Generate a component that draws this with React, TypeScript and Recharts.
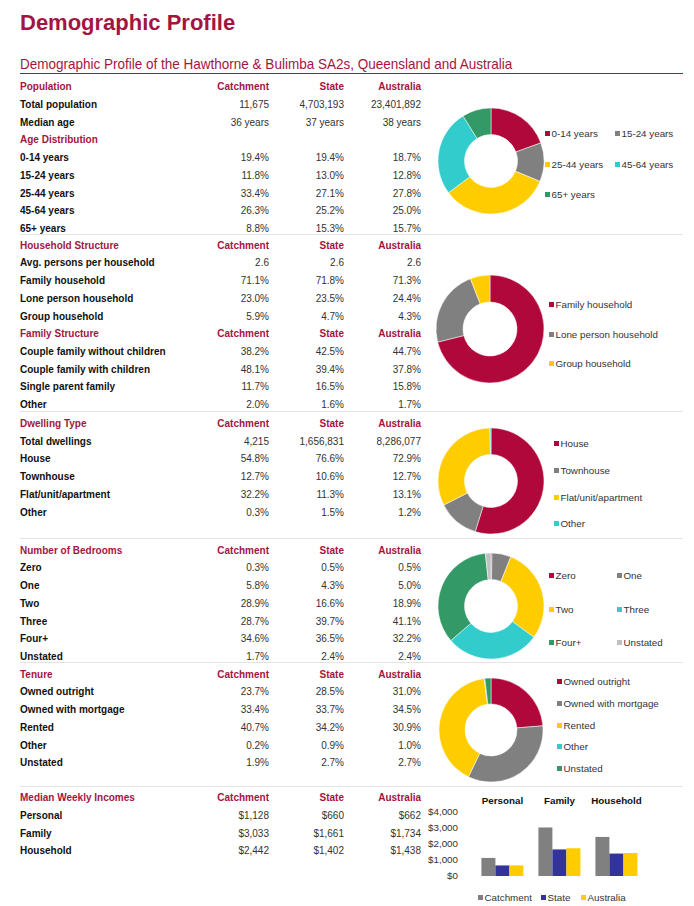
import React from "react";
import { PieChart, Pie, Cell, BarChart, Bar, XAxis, YAxis } from "recharts";

const columns = ["Catchment", "State", "Australia"];

const totalPopulation = [11675, 4703193, 23401892];
const medianAge = [36, 37, 38];

const ageLabels = ["0-14 years", "15-24 years", "25-44 years", "45-64 years", "65+ years"];
const ageCatchment = [19.4, 11.8, 33.4, 26.3, 8.8];
const ageState = [19.4, 13.0, 27.1, 25.2, 15.3];
const ageAustralia = [18.7, 12.8, 27.8, 25.0, 15.7];

const avgPersons = [2.6, 2.6, 2.6];
const householdLabels = ["Family household", "Lone person household", "Group household"];
const householdCatchment = [71.1, 23.0, 5.9];
const householdState = [71.8, 23.5, 4.7];
const householdAustralia = [71.3, 24.4, 4.3];

const familyLabels = ["Couple family without children", "Couple family with children", "Single parent family", "Other"];
const familyCatchment = [38.2, 48.1, 11.7, 2.0];
const familyState = [42.5, 39.4, 16.5, 1.6];
const familyAustralia = [44.7, 37.8, 15.8, 1.7];

const totalDwellings = [4215, 1656831, 8286077];
const dwellingLabels = ["House", "Townhouse", "Flat/unit/apartment", "Other"];
const dwellingCatchment = [54.8, 12.7, 32.2, 0.3];
const dwellingState = [76.6, 10.6, 11.3, 1.5];
const dwellingAustralia = [72.9, 12.7, 13.1, 1.2];

const bedroomLabels = ["Zero", "One", "Two", "Three", "Four+", "Unstated"];
const bedroomCatchment = [0.3, 5.8, 28.9, 28.7, 34.6, 1.7];
const bedroomState = [0.5, 4.3, 16.6, 39.7, 36.5, 2.4];
const bedroomAustralia = [0.5, 5.0, 18.9, 41.1, 32.2, 2.4];

const tenureLabels = ["Owned outright", "Owned with mortgage", "Rented", "Other", "Unstated"];
const tenureCatchment = [23.7, 33.4, 40.7, 0.2, 1.9];
const tenureState = [28.5, 33.7, 34.2, 0.9, 2.7];
const tenureAustralia = [31.0, 34.5, 30.9, 1.0, 2.7];

const incomeLabels = ["Personal", "Family", "Household"];
const incomeCatchment = [1128, 3033, 2442];
const incomeState = [660, 1661, 1402];
const incomeAustralia = [662, 1734, 1438];
const incomeTicks = [0, 1000, 2000, 3000, 4000];

const CRIMSON = "#a3153f";
const RED = "#b0083a";
const GRAY = "#808080";
const YELLOW = "#ffcc00";
const TEAL = "#33cccc";
const GREEN = "#339966";
const LIGHT = "#c0c0c0";
const NAVY = "#333399";
const FONT = '"Liberation Sans", Arial, sans-serif';

const ROW_H = 17.72;
const COL_RIGHT = [269, 344, 421];

const pct = (v: number) => v.toFixed(1) + "%";
const num = (v: number) => v.toLocaleString("en-US");
const money = (v: number) => "$" + v.toLocaleString("en-US");

type Row = { head?: boolean; label: string; values?: string[] };

const head = (label: string, cols = true): Row => ({ head: true, label, values: cols ? columns : undefined });
const rowsOf = (labels: string[], a: number[], b: number[], c: number[], f = pct): Row[] =>
  labels.map((label, i) => ({ label, values: [f(a[i]), f(b[i]), f(c[i])] }));

function TableRows({ y0, rows }: { y0: number; rows: Row[] }) {
  return (
    <>
      {rows.map((r, i) => {
        const y = y0 + i * ROW_H;
        return (
          <div key={i} style={{ position: "absolute", left: 0, top: y - 9, width: 430, height: 18, lineHeight: "18px", fontSize: 10 }}>
            <span style={{ position: "absolute", left: 20, fontWeight: 700, color: r.head ? CRIMSON : "#111", whiteSpace: "nowrap" }}>
              {r.label}
            </span>
            {r.values?.map((v, j) => (
              <span
                key={j}
                style={{
                  position: "absolute",
                  left: COL_RIGHT[j] - 90,
                  width: 90,
                  textAlign: "right",
                  fontWeight: r.head ? 700 : 400,
                  color: r.head ? CRIMSON : "#333",
                }}
              >
                {v}
              </span>
            ))}
          </div>
        );
      })}
    </>
  );
}

function Donut({ labels, values, colors, cx, cy, r }: { labels: string[]; values: number[]; colors: string[]; cx: number; cy: number; r: number }) {
  const data = labels.map((name, i) => ({ name, value: values[i] }));
  return (
    <div style={{ position: "absolute", left: cx - 60, top: cy - 60 }}>
      <PieChart width={120} height={120}>
        <Pie
          data={data}
          dataKey="value"
          cx={60}
          cy={60}
          outerRadius={r}
          innerRadius={r * 0.5}
          startAngle={90}
          endAngle={-270}
          stroke="#fff"
          strokeWidth={0.5}
          isAnimationActive={false}
        >
          {data.map((d, i) => (
            <Cell key={d.name} fill={colors[i]} />
          ))}
        </Pie>
      </PieChart>
    </div>
  );
}

function DonutLegend({ labels, colors, xs, ys }: { labels: string[]; colors: string[]; xs: number[]; ys: number[] }) {
  return (
    <>
      {labels.map((l, i) => {
        const x = xs[i % xs.length];
        const y = ys[Math.floor(i / xs.length)];
        return (
          <div key={l} style={{ position: "absolute", left: x, top: y - 7, height: 14, lineHeight: "14px", fontSize: 9.8, color: "#333", whiteSpace: "nowrap" }}>
            <span style={{ display: "inline-block", width: 5, height: 5, background: colors[i], marginRight: 1.5, verticalAlign: "middle", position: "relative", top: -1 }} />
            {l}
          </div>
        );
      })}
    </>
  );
}

const separators = [234, 411, 538, 662, 786];

export default function App() {
  const incomeData = incomeLabels.map((name, i) => ({
    name,
    Catchment: incomeCatchment[i],
    State: incomeState[i],
    Australia: incomeAustralia[i],
  }));
  const barSeries = [
    { key: "Catchment", color: GRAY },
    { key: "State", color: NAVY },
    { key: "Australia", color: YELLOW },
  ];
  const barLegendX = [478, 541, 581];

  return (
    <div style={{ position: "absolute", left: 0, top: 0, width: 694, height: 906, background: "#fff", fontFamily: FONT, overflow: "hidden" }}>
      <div style={{ position: "absolute", left: 20, top: 10, fontSize: 22, fontWeight: 700, color: CRIMSON, lineHeight: "26px" }}>
        Demographic Profile
      </div>
      <div
        style={{
          position: "absolute",
          left: 20,
          top: 55,
          fontSize: 15,
          lineHeight: "17px",
          color: CRIMSON,
          whiteSpace: "nowrap",
          transform: "scaleX(0.9)",
          transformOrigin: "left center",
        }}
      >
        Demographic Profile of the Hawthorne &amp; Bulimba SA2s, Queensland and Australia
      </div>
      <div style={{ position: "absolute", left: 20, top: 72.5, width: 663, height: 1.5, background: CRIMSON }} />
      {separators.map((y) => (
        <div key={y} style={{ position: "absolute", left: 20, top: y, width: 663, height: 1, background: "#e4e4e4" }} />
      ))}

      <TableRows
        y0={87.3}
        rows={[
          head("Population"),
          { label: "Total population", values: totalPopulation.map(num) },
          { label: "Median age", values: medianAge.map((v) => `${v} years`) },
          head("Age Distribution", false),
          ...rowsOf(ageLabels, ageCatchment, ageState, ageAustralia),
        ]}
      />
      <TableRows
        y0={245.7}
        rows={[
          head("Household Structure"),
          { label: "Avg. persons per household", values: avgPersons.map((v) => v.toFixed(1)) },
          ...rowsOf(householdLabels, householdCatchment, householdState, householdAustralia),
          head("Family Structure"),
          ...rowsOf(familyLabels, familyCatchment, familyState, familyAustralia),
        ]}
      />
      <TableRows
        y0={424}
        rows={[
          head("Dwelling Type"),
          { label: "Total dwellings", values: totalDwellings.map(num) },
          ...rowsOf(dwellingLabels, dwellingCatchment, dwellingState, dwellingAustralia),
        ]}
      />
      <TableRows
        y0={550.7}
        rows={[
          head("Number of Bedrooms"),
          ...rowsOf(bedroomLabels, bedroomCatchment, bedroomState, bedroomAustralia),
          head("Tenure"),
          ...rowsOf(tenureLabels, tenureCatchment, tenureState, tenureAustralia),
        ]}
      />
      <TableRows
        y0={798.3}
        rows={[head("Median Weekly Incomes"), ...rowsOf(incomeLabels, incomeCatchment, incomeState, incomeAustralia, money)]}
      />

      <Donut labels={ageLabels} values={ageCatchment} colors={[RED, GRAY, YELLOW, TEAL, GREEN]} cx={486} cy={155.5} r={53} />
      <DonutLegend labels={ageLabels} colors={[RED, GRAY, YELLOW, TEAL, GREEN]} xs={[545, 615]} ys={[134, 164.7, 195.3]} />

      <Donut labels={householdLabels} values={householdCatchment} colors={[RED, GRAY, YELLOW]} cx={485} cy={324} r={54} />
      <DonutLegend labels={householdLabels} colors={[RED, GRAY, YELLOW]} xs={[549]} ys={[305, 335, 364]} />

      <Donut labels={dwellingLabels} values={dwellingCatchment} colors={[RED, GRAY, YELLOW, TEAL]} cx={485.7} cy={476} r={53} />
      <DonutLegend labels={dwellingLabels} colors={[RED, GRAY, YELLOW, TEAL]} xs={[554]} ys={[444.3, 471, 498.3, 524]} />

      <Donut labels={bedroomLabels} values={bedroomCatchment} colors={[RED, GRAY, YELLOW, TEAL, GREEN, LIGHT]} cx={486} cy={601} r={53} />
      <DonutLegend labels={bedroomLabels} colors={[RED, GRAY, YELLOW, TEAL, GREEN, LIGHT]} xs={[549, 617]} ys={[575.7, 610, 643.3]} />

      <Donut labels={tenureLabels} values={tenureCatchment} colors={[RED, GRAY, YELLOW, TEAL, GREEN]} cx={486} cy={725.3} r={52} />
      <DonutLegend labels={tenureLabels} colors={[RED, GRAY, YELLOW, TEAL, GREEN]} xs={[557]} ys={[681.7, 704, 726, 746.7, 769]} />

      <div style={{ position: "absolute", left: 420, top: 788 }}>
        <BarChart width={265} height={115} data={incomeData} margin={{ top: 0, right: 40, bottom: 27, left: 0 }} barCategoryGap="13%" barGap={0}>
          <XAxis
            dataKey="name"
            orientation="top"
            height={24}
            axisLine={false}
            tickLine={false}
            interval={0}
            tick={{ fontSize: 9.8, fontWeight: 700, fill: "#111", fontFamily: FONT }}
          />
          <YAxis
            width={54}
            domain={[0, 4000]}
            ticks={incomeTicks}
            axisLine={false}
            tickLine={false}
            tickMargin={10}
            tickFormatter={money}
            tick={{ fontSize: 9.8, fill: "#333", fontFamily: FONT }}
          />
          {barSeries.map((s) => (
            <Bar key={s.key} dataKey={s.key} fill={s.color} isAnimationActive={false} />
          ))}
        </BarChart>
      </div>
      {barSeries.map((s, i) => (
        <div key={s.key} style={{ position: "absolute", left: barLegendX[i], top: 891, height: 14, lineHeight: "14px", fontSize: 9.8, color: "#333", whiteSpace: "nowrap" }}>
          <span style={{ display: "inline-block", width: 5, height: 5, background: s.color, marginRight: 1.5, verticalAlign: "middle", position: "relative", top: -1 }} />
          {s.key}
        </div>
      ))}
    </div>
  );
}
